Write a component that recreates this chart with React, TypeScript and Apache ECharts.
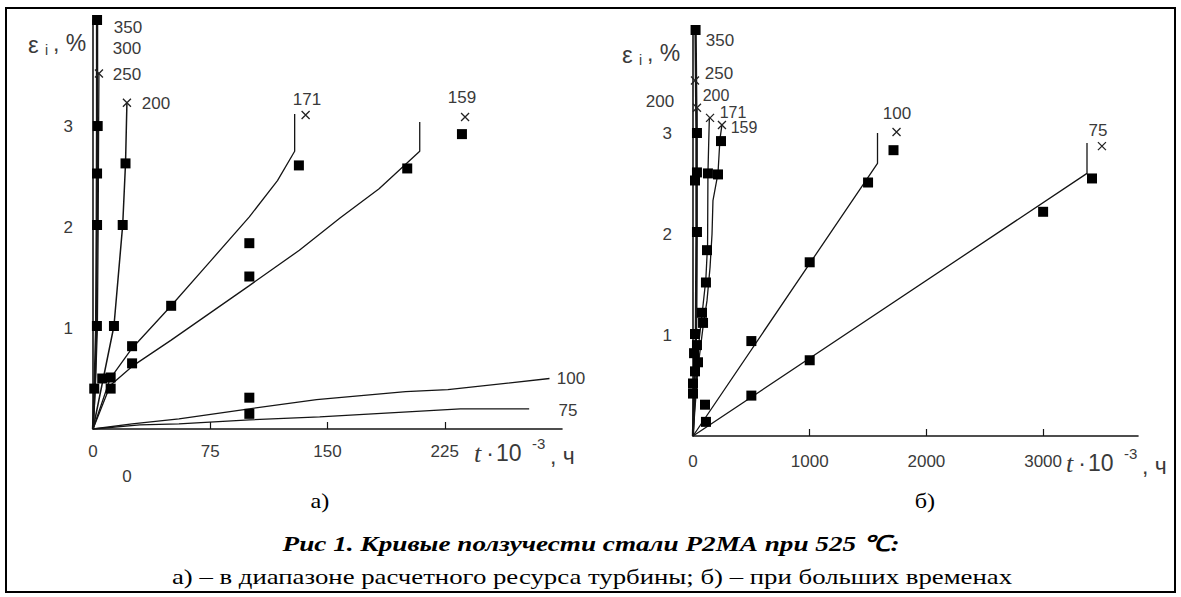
import React, { useEffect, useRef } from 'react';
import * as echarts from 'echarts';

// ---------- tick labels ----------
const leftXTicks = [0, 75, 150, 225];
const leftXTickMarks = [75, 150, 225];
const leftYTicks = [1, 2, 3];
const rightXTicks = [0, 1000, 2000, 3000];
const rightXTickMarks = [1000, 2000, 3000];
const rightYTicks = [1, 2, 3];

// ---------- panel a) : t·10^-3 h  vs  eps_i % ----------
const a350 = [[0, 0], [1, 0.4], [2, 1.0], [2.4, 2.0], [2.6, 3.0], [2.6, 4.05]];
const a250 = [[0, 0], [1.5, 0.4], [2.8, 1.0], [3.3, 2.0], [3.6, 3.0], [3.8, 3.52]];
const a200 = [[0, 0], [13.4, 1.02], [19, 2.02], [20.8, 2.63], [21.7, 3.23]];
const a171 = [[0, 0], [11, 0.5], [25, 0.8], [50, 1.22], [75, 1.66], [100, 2.1], [118, 2.46], [129, 2.75], [129, 3.12]];
const a159 = [[0, 0], [11, 0.43], [25, 0.62], [50, 0.88], [75, 1.15], [100, 1.42], [132, 1.77], [158, 2.09], [183, 2.38], [209, 2.75], [209, 3.04]];
const a100 = [[0, 0], [25, 0.05], [55, 0.1], [100, 0.2], [143, 0.29], [200, 0.37], [227, 0.39], [292, 0.5]];
const a75 = [[0, 0], [30, 0.04], [55, 0.05], [100, 0.09], [145, 0.12], [190, 0.16], [235, 0.2], [279, 0.2]];
const aSquares = [
  [0.8, 0.4], [2.5, 1.02], [2.6, 2.02], [2.6, 2.53], [3, 3.0], [2.6, 4.05],
  [5.9, 0.5], [11.3, 0.51], [11.3, 0.4], [13.4, 1.02], [19, 2.02], [20.8, 2.63],
  [25, 0.82], [25, 0.65], [50, 1.22], [100, 1.84], [100, 1.51], [100, 0.31], [100, 0.15],
  [131.7, 2.61], [201, 2.58], [236, 2.92],
];
const aCrosses = [[3.8, 3.52], [21.7, 3.23], [136, 3.11], [238, 3.09]];

// ---------- panel б) ----------
const b350 = [[0, 0], [10, 0.5], [25, 1.0], [30, 2.0], [30, 3.0], [22, 4.02]];
const b200 = [[0, 0], [30, 1.0], [34, 2.0], [34, 3.25]];
const b171 = [[0, 0], [43, 0.85], [77, 1.2], [110, 1.55], [125, 1.9], [128, 2.6], [140, 3.15]];
const b159 = [[0, 0], [43, 0.68], [86, 1.08], [120, 1.34], [146, 1.67], [163, 2.0], [171, 2.33], [214, 2.6], [231, 2.94], [248, 3.08]];
const b100 = [[0, 0], [1581, 2.7], [1581, 3.0]];
const b75 = [[0, 0], [3376, 2.6], [3376, 2.9]];
const bSquares = [
  [22, 4.02], [34, 3.0], [34, 2.61], [17, 2.53], [34, 2.02], [17, 1.01], [34, 0.9], [9, 0.82],
  [43, 0.73], [17, 0.64], [0, 0.52], [0, 0.42], [120, 1.84], [111, 1.52], [77, 1.22], [86, 1.12],
  [103, 0.31], [111, 0.14], [128, 2.6], [214, 2.59], [240, 2.92],
  [500, 0.94], [1000, 1.72], [1500, 2.51], [1718, 2.83],
  [500, 0.4], [1000, 0.75], [3000, 2.22], [3419, 2.55],
];
const bCrosses = [[17, 3.52], [34, 3.25], [146, 3.15], [248, 3.08], [1744, 3.01], [3504, 2.87]];

const INK = '#151515';
const GREY = '#3a3a3a';
const SANS = 'Liberation Sans, Arial, sans-serif';
const SERIF = 'Liberation Serif, Times New Roman, serif';

function lineSeries(data: number[][], idx: number, width = 1.3) {
  return {
    type: 'line', xAxisIndex: idx, yAxisIndex: idx, data, showSymbol: false, symbol: 'none',
    lineStyle: { color: INK, width }, silent: true, z: 2,
  };
}
function squareSeries(data: number[][], idx: number) {
  return {
    type: 'scatter', xAxisIndex: idx, yAxisIndex: idx, data, symbol: 'rect', symbolSize: 10,
    itemStyle: { color: '#000', opacity: 1 }, silent: true, z: 3,
  };
}
function crossSeries(data: number[][], idx: number) {
  return {
    type: 'scatter', xAxisIndex: idx, yAxisIndex: idx, data,
    symbol: 'path://M0,0L10,10M10,0L0,10', symbolSize: 8,
    itemStyle: { color: 'rgba(0,0,0,0)', borderColor: '#222', borderWidth: 1.3, opacity: 1 }, silent: true, z: 3,
  };
}

function txt(x: number, y: number, text: string, size = 17, extra: any = {}) {
  return {
    type: 'text', x, y, silent: true,
    scaleX: extra.scaleX || 1,
    style: {
      text, fill: extra.fill || GREY, fontSize: size, fontFamily: extra.fontFamily || SANS,
      fontStyle: extra.fontStyle || 'normal', fontWeight: extra.fontWeight || 'normal',
      align: extra.align || 'center', verticalAlign: 'middle',
      textAlign: extra.align || 'center', textVerticalAlign: 'middle',
    },
  };
}

function axisTitleX(x0: number, y0: number) {
  return [
    txt(x0, y0, 't', 26, { fontFamily: SERIF, fontStyle: 'italic', align: 'left' }),
    txt(x0 + 16, y0, '·', 23),
    txt(x0 + 22, y0, '10', 23, { align: 'left' }),
    txt(x0 + 58, y0 - 10, '-3', 15, { align: 'left' }),
    txt(x0 + 76, y0 + 3, ', ч', 23, { align: 'left' }),
  ];
}
function axisTitleY(x0: number, y0: number) {
  return [
    txt(x0, y0 + 1, 'ε', 24, { align: 'left' }),
    txt(x0 + 17, y0 + 7, 'i', 14, { align: 'left' }),
    txt(x0 + 25, y0, ', %', 23, { align: 'left' }),
  ];
}

export default function App() {
  const ref = useRef<HTMLDivElement>(null);
  useEffect(() => {
    if (!ref.current) return;
    const chart = echarts.init(ref.current, undefined, { renderer: 'svg' });
    const axisLine = { show: true, lineStyle: { color: INK, width: 1.6 } };
    const xLabel = (vals: number[], margin: number) => ({
      customValues: vals, color: GREY, fontSize: 17, fontFamily: SANS, margin,
      formatter: (v: number) => String(v),
    });
    const option: any = {
      animation: false,
      backgroundColor: '#fff',
      grid: [
        { left: 93, top: 20, width: 469, height: 409 },
        { left: 693, top: 30, width: 445, height: 406 },
      ],
      xAxis: [
        {
          gridIndex: 0, type: 'value', min: 0, max: 300, axisLine,
          axisTick: { show: true, inside: true, length: 7, customValues: leftXTickMarks, lineStyle: { color: INK, width: 1.2 } },
          axisLabel: xLabel(leftXTicks, 14), splitLine: { show: false },
        },
        {
          gridIndex: 1, type: 'value', min: 0, max: 3813, axisLine,
          axisTick: { show: true, inside: true, length: 7, customValues: rightXTickMarks, lineStyle: { color: INK, width: 1.2 } },
          axisLabel: xLabel(rightXTicks, 17), splitLine: { show: false },
        },
      ],
      yAxis: [
        {
          gridIndex: 0, type: 'value', min: 0, max: 4.05, axisLine, axisTick: { show: false },
          axisLabel: { customValues: leftYTicks, color: GREY, fontSize: 17, fontFamily: SANS, margin: 20, formatter: (v: number) => String(v) },
          splitLine: { show: false },
        },
        {
          gridIndex: 1, type: 'value', min: 0, max: 4.02, axisLine, axisTick: { show: false },
          axisLabel: { customValues: rightYTicks, color: GREY, fontSize: 17, fontFamily: SANS, margin: 21, formatter: (v: number) => String(v) },
          splitLine: { show: false },
        },
      ],
      series: [
        lineSeries(a350, 0, 2.4), lineSeries(a250, 0), lineSeries(a200, 0, 1.5), lineSeries(a171, 0),
        lineSeries(a159, 0), lineSeries(a100, 0), lineSeries(a75, 0),
        squareSeries(aSquares, 0), crossSeries(aCrosses, 0),
        lineSeries(b350, 1, 2.4), lineSeries(b200, 1), lineSeries(b171, 1), lineSeries(b159, 1),
        lineSeries(b100, 1), lineSeries(b75, 1),
        squareSeries(bSquares, 1), crossSeries(bCrosses, 1),
      ],
      graphic: [
        { type: 'rect', shape: { x: 6, y: 8, width: 1169, height: 584 }, style: { fill: 'none', stroke: '#000', lineWidth: 2 }, silent: true, z: 10 },
        // panel a) curve labels
        txt(128, 27, '350'), txt(127, 48, '300'), txt(127, 74, '250'), txt(156, 103, '200'),
        txt(307, 99, '171'), txt(462, 97, '159'), txt(571, 378, '100'), txt(568, 410, '75'),
        txt(127, 476, '0'),
        ...axisTitleY(28, 43),
        ...axisTitleX(474, 453),
        // panel б) curve labels
        txt(720, 40, '350'), txt(719, 73, '250'), txt(716, 95, '200', 16), txt(660, 101, '200'),
        txt(733, 112, '171', 16), txt(744, 127, '159', 16), txt(897, 113, '100'), txt(1098, 130, '75'),
        ...axisTitleY(622, 53),
        ...axisTitleX(1066, 463),
        // captions
        txt(320, 500, 'а)', 22, { fontFamily: SERIF, fill: '#000', scaleX: 1.1 }),
        txt(925, 500, 'б)', 22, { fontFamily: SERIF, fill: '#000', scaleX: 1.1 }),
        txt(591, 543, 'Рис 1. Кривые ползучести стали Р2МА при 525 ℃:', 22, { fontFamily: SERIF, fontStyle: 'italic', fontWeight: 'bold', fill: '#000', scaleX: 1.236 }),
        txt(592, 576, 'а) – в диапазоне расчетного ресурса турбины; б) – при больших временах', 22, { fontFamily: SERIF, fill: '#000', scaleX: 1.217 }),
      ],
    };
    chart.setOption(option);
    return () => chart.dispose();
  }, []);
  return (
    <div ref={ref} style={{ position: 'absolute', left: 0, top: 0, width: 1181, height: 597, background: '#fff' }} />
  );
}
